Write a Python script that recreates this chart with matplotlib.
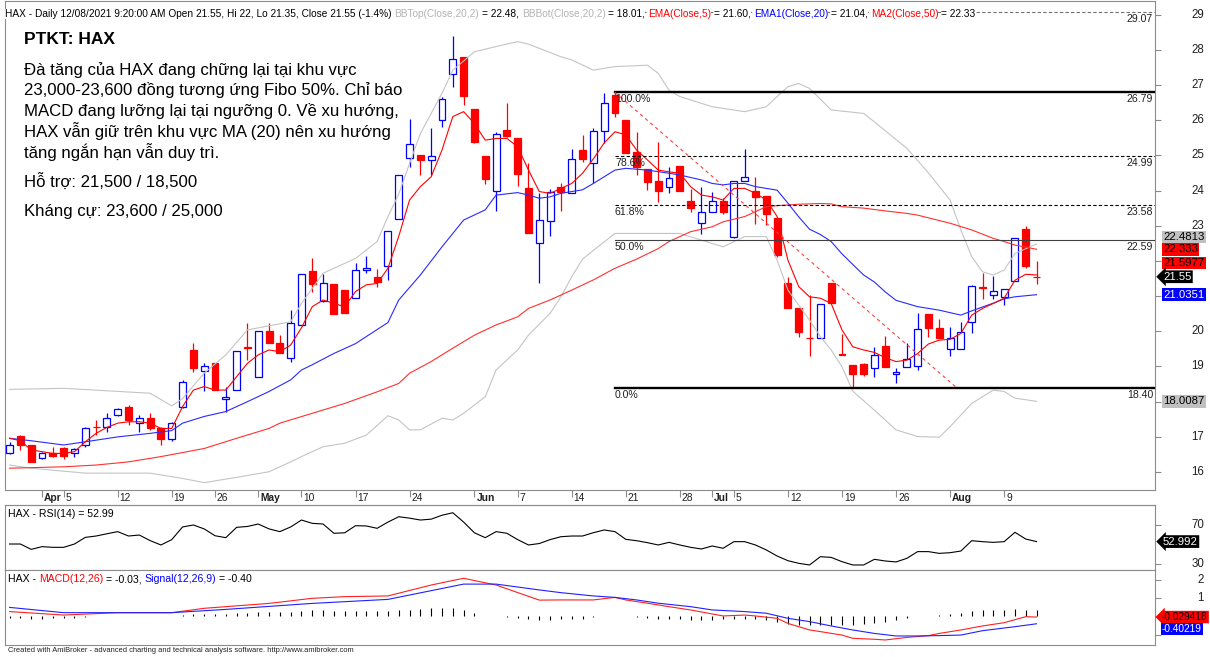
import matplotlib
matplotlib.use('Agg')
import matplotlib.pyplot as plt
from matplotlib.patches import Rectangle
from matplotlib.transforms import blended_transform_factory, offset_copy

plt.rcParams['font.family'] = ['Liberation Sans', 'DejaVu Sans']

# ---------------- data ----------------
opens = [16.53, 17.03, 16.77, 16.39, 16.55, 16.69, 16.53, 16.77, 17.29, 17.27,
         17.63, 17.86, 17.39, 17.55, 17.24, 16.93, 17.86, 19.47, 18.88, 19.09,
         18.08, 18.33, 19.55, 18.71, 20.02, 19.66, 19.23, 20.18, 21.72, 20.86,
         21.33, 21.17, 20.94, 21.74, 21.55, 21.86, 23.18, 24.93, 25.01, 24.87,
         26.00, 27.31, 27.80, 26.31, 24.99, 23.99, 25.72, 25.50, 24.06, 22.50,
         23.14, 24.11, 23.94, 25.15, 24.77, 25.70, 26.71, 26.00, 25.08, 24.60,
         24.27, 24.11, 24.70, 23.70, 23.09, 23.40, 23.70, 22.69, 24.28, 23.99,
         23.85, 23.21, 21.38, 20.65, 19.82, 19.80, 21.38, 19.35, 19.04, 19.07,
         18.95, 19.59, 18.79, 18.99, 19.00, 20.49, 20.08, 19.49, 19.49, 20.25,
         21.26, 21.03, 20.98, 21.43, 22.90, 21.55]
highs = [16.85, 17.05, 16.77, 16.57, 16.72, 16.70, 16.68, 17.29, 17.48, 17.67,
         17.83, 17.91, 17.63, 17.67, 17.29, 17.43, 18.62, 19.66, 19.09, 19.09,
         18.43, 19.44, 20.23, 20.02, 20.23, 19.89, 20.61, 21.63, 22.07, 21.63,
         21.33, 21.17, 21.93, 22.14, 21.76, 22.86, 24.44, 26.02, 25.01, 25.77,
         26.67, 28.39, 27.80, 26.31, 24.99, 25.67, 26.48, 25.50, 24.77, 23.92,
         24.03, 24.20, 25.17, 25.58, 25.77, 26.78, 26.79, 26.00, 25.67, 24.60,
         25.39, 24.66, 24.70, 24.03, 24.09, 23.97, 23.78, 24.28, 25.17, 24.37,
         23.85, 23.21, 21.55, 20.65, 21.03, 20.77, 21.38, 19.92, 19.04, 19.09,
         19.54, 19.87, 18.95, 19.68, 20.53, 20.49, 20.34, 20.13, 20.27, 21.32,
         21.67, 21.57, 21.19, 22.64, 22.99, 22.00]
lows = [16.50, 16.63, 16.30, 16.37, 16.44, 16.36, 16.42, 16.72, 17.05, 17.15,
        17.58, 17.34, 17.15, 17.19, 16.77, 16.89, 17.81, 18.85, 18.29, 18.33,
        17.72, 18.33, 19.19, 18.71, 19.66, 19.37, 19.14, 20.18, 21.13, 20.84,
        20.48, 20.51, 20.94, 21.67, 21.27, 21.46, 23.18, 24.68, 24.44, 24.44,
        25.81, 26.95, 26.43, 25.35, 24.19, 23.42, 25.53, 24.14, 22.78, 21.36,
        22.71, 23.42, 23.94, 24.80, 24.22, 25.34, 26.08, 25.07, 24.44, 24.01,
        23.66, 23.92, 23.99, 23.40, 22.76, 23.38, 23.33, 22.66, 24.28, 23.05,
        23.02, 22.12, 20.65, 19.83, 19.31, 19.80, 20.79, 19.33, 18.43, 18.73,
        18.71, 18.98, 18.52, 18.99, 18.90, 19.85, 19.80, 19.31, 19.49, 19.96,
        20.92, 20.92, 20.75, 21.43, 21.79, 21.35]
closes = [16.77, 16.77, 16.30, 16.55, 16.46, 16.46, 16.66, 17.24, 17.27, 17.55,
          17.78, 17.48, 17.55, 17.24, 16.93, 17.39, 18.57, 18.95, 19.00, 18.33,
          18.14, 19.44, 19.53, 20.02, 19.68, 19.39, 20.24, 21.63, 21.34, 21.36,
          20.48, 20.51, 21.74, 21.79, 21.41, 22.86, 24.44, 25.31, 24.87, 24.99,
          26.60, 27.74, 26.69, 25.39, 24.33, 25.60, 25.55, 24.47, 22.78, 23.15,
          23.95, 23.95, 24.89, 24.89, 25.70, 26.50, 26.19, 25.07, 24.66, 24.25,
          23.99, 24.35, 23.99, 23.49, 23.40, 23.70, 23.40, 24.28, 24.39, 23.81,
          23.33, 22.17, 20.65, 19.99, 19.80, 20.77, 20.79, 19.33, 18.78, 18.78,
          19.33, 18.99, 18.83, 19.22, 20.06, 20.08, 19.80, 19.80, 19.99, 21.29,
          21.24, 21.15, 21.19, 22.64, 21.86, 21.55]

# date axis labels: (bar index, label, is month)
date_ticks = [(3, 'Apr', True), (5, '5', False), (10, '12', False), (15, '19', False),
              (19, '26', False), (23, 'May', True), (27, '10', False), (32, '17', False),
              (37, '24', False), (43, 'Jun', True), (47, '7', False), (52, '14', False),
              (57, '21', False), (62, '28', False), (65, 'Jul', True), (67, '5', False),
              (72, '12', False), (77, '19', False), (82, '26', False), (87, 'Aug', True),
              (92, '9', False)]

# indicator curves: (bar index list, value list)
ema5_x = list(range(96))
ema5_v = [16.96, 16.89, 16.63, 16.58, 16.53, 16.53, 16.58, 16.86, 17.10, 17.27,
          17.39, 17.43, 17.43, 17.39, 17.24, 17.24, 17.86, 18.33, 18.43, 18.33,
          18.33, 18.71, 19.09, 19.33, 19.47, 19.42, 19.61, 20.10, 20.70, 20.89,
          20.79, 20.70, 21.13, 21.32, 21.36, 21.79, 22.70, 23.73, 24.11, 24.39,
          25.15, 26.10, 26.24, 25.90, 25.43, 25.48, 25.48, 25.24, 24.58, 23.97,
          23.92, 24.06, 24.20, 24.49, 24.90, 25.35, 25.67, 25.58, 25.15, 24.87,
          24.58, 24.53, 24.49, 24.11, 23.87, 23.82, 23.73, 24.06, 24.06, 23.92,
          23.73, 23.26, 22.02, 21.27, 20.98, 20.94, 20.79, 20.04, 19.56, 19.47,
          19.40, 19.25, 19.14, 19.18, 19.37, 19.64, 19.75, 19.77, 19.94, 20.46,
          20.65, 20.79, 20.94, 21.45, 21.62, 21.60]
ema20_x = [0, 2, 5, 7, 10, 13, 15, 16, 18, 20, 22, 24, 26, 27, 28, 30, 32, 34, 35, 36,
           38, 40, 42, 44, 45, 47, 48, 49, 50, 51, 53, 54, 56, 57, 59, 61, 62, 64, 65,
           66, 67, 68, 69, 71, 72, 73, 74, 75, 76, 77, 78, 79, 80, 81, 82, 84, 86, 88,
           89, 91, 92, 93, 95]
ema20_v = [16.96, 16.89, 16.77, 16.86, 17.00, 17.10, 17.18, 17.39, 17.58, 17.72,
           18.00, 18.29, 18.62, 18.90, 19.05, 19.37, 19.65, 20.05, 20.25, 20.89,
           21.60, 22.40, 23.16, 23.45, 23.87, 23.94, 23.87, 23.78, 23.82, 23.92,
           24.02, 24.20, 24.58, 24.63, 24.58, 24.49, 24.44, 24.30, 24.20, 24.16,
           24.20, 24.20, 24.11, 24.01, 23.64, 23.25, 22.90, 22.75, 22.55, 22.20,
           21.90, 21.60, 21.40, 21.12, 20.88, 20.70, 20.60, 20.46, 20.58, 20.80,
           20.92, 20.98, 21.04]
ma50_x = [0, 5, 8, 11, 14, 18, 21, 24, 25, 28, 31, 34, 36, 37, 39, 41, 43, 45, 47, 48,
          50, 52, 54, 56, 58, 60, 61, 63, 65, 66, 68, 69, 70, 71, 73, 75, 76, 77, 79,
          81, 83, 84, 87, 89, 91, 92, 93, 95]
ma50_v = [16.11, 16.15, 16.20, 16.29, 16.44, 16.67, 16.96, 17.24, 17.39, 17.67,
          17.95, 18.28, 18.52, 18.81, 19.14, 19.52, 19.89, 20.18, 20.41, 20.65,
          20.89, 21.17, 21.46, 21.79, 22.05, 22.35, 22.55, 22.83, 22.97, 23.11,
          23.26, 23.40, 23.54, 23.57, 23.61, 23.63, 23.62, 23.54, 23.50, 23.42,
          23.35, 23.30, 23.07, 22.88, 22.64, 22.55, 22.45, 22.33]
bbtop_x = [0, 5, 13, 15, 16, 18, 20, 22, 26, 27, 29, 32, 34, 35, 36, 37, 38, 40, 41,
           43, 45, 47, 48, 51, 52, 54, 56, 59, 60, 61, 62, 65, 68, 70, 71, 72, 73, 74,
           76, 79, 80, 83, 85, 87, 88, 89, 90, 91, 92, 93, 95]
bbtop_v = [18.35, 18.38, 18.24, 17.88, 18.09, 18.81, 19.33, 20.04, 20.27, 20.79,
           21.65, 22.07, 22.55, 23.26, 23.90, 24.77, 25.62, 26.76, 27.42, 27.94,
           28.09, 28.23, 28.16, 27.80, 27.71, 27.42, 27.52, 27.56, 27.33, 26.85,
           26.67, 26.38, 26.24, 26.38, 26.67, 26.95, 27.04, 26.90, 26.29, 26.19,
           25.95, 25.20, 24.50, 23.73, 22.88, 22.12, 21.69, 21.60, 21.74, 22.21,
           22.48]
bbbot_x = [0, 2, 7, 13, 16, 18, 21, 24, 26, 27, 29, 31, 33, 35, 36, 37, 38, 40, 41,
           42, 44, 45, 47, 48, 50, 51, 52, 53, 54, 56, 58, 60, 62, 64, 66, 68, 70, 71,
           72, 74, 75, 76, 77, 78, 80, 82, 84, 86, 87, 89, 91, 92, 93, 95]
bbbot_v = [16.20, 16.11, 15.97, 15.97, 15.82, 15.70, 15.85, 16.01, 16.29, 16.44,
           16.72, 16.82, 17.05, 17.60, 17.48, 17.20, 17.20, 17.53, 17.48, 17.67,
           18.14, 18.90, 19.47, 19.89, 20.51, 20.98, 21.55, 22.05, 22.30, 22.78,
           22.78, 22.78, 22.78, 22.59, 22.40, 22.69, 22.69, 22.02, 21.17, 20.32,
           19.85, 19.47, 18.99, 18.30, 17.76, 17.20, 17.01, 16.99, 17.29, 17.95,
           18.33, 18.29, 18.10, 18.01]

rsi_x = list(range(96))
rsi_v = [50.5, 50.5, 45.0, 47.8, 47.1, 47.1, 50.5, 57.3, 58.7, 61.0,
         63.2, 58.7, 59.7, 54.0, 49.5, 55.0, 68.0, 70.0, 66.0, 59.0,
         57.0, 67.6, 68.5, 71.0, 66.0, 63.2, 68.0, 75.1, 71.7, 71.0,
         61.5, 62.0, 69.3, 69.0, 66.6, 73.0, 78.5, 77.0, 75.1, 76.0,
         80.0, 82.6, 73.0, 62.0, 57.0, 63.2, 61.5, 55.0, 49.5, 51.0,
         55.0, 58.0, 58.7, 58.7, 62.1, 64.9, 63.2, 55.3, 53.9, 51.9,
         49.5, 52.2, 49.5, 47.1, 45.4, 48.5, 46.1, 52.9, 52.9, 49.5,
         44.4, 38.2, 33.4, 30.7, 29.0, 37.5, 36.8, 32.4, 29.0, 29.0,
         34.8, 33.1, 32.1, 35.8, 42.7, 42.7, 40.9, 41.6, 43.3, 53.9,
         52.9, 52.2, 52.9, 62.5, 55.6, 52.99]

macd_x = [0, 5, 10, 15, 18, 24, 28, 31, 35, 39, 42, 45, 49, 51, 54, 56, 57, 59, 61,
          63, 65, 66, 68, 69, 71, 72, 74, 75, 77, 78, 80, 81, 83, 85, 86, 88, 90, 92,
          94, 95]
macd_v = [0.27, 0.08, 0.21, 0.21, 0.45, 0.72, 1.00, 1.09, 1.13, 1.73, 2.10, 1.73,
          0.90, 0.91, 0.91, 1.05, 0.91, 0.73, 0.54, 0.36, 0.14, 0.03, 0.08, 0.03,
          -0.10, -0.38, -0.74, -0.83, -1.02, -1.20, -1.25, -1.29, -1.15, -1.05,
          -0.93, -0.74, -0.52, -0.34, -0.01, -0.03]
signal_x = [0, 5, 10, 15, 20, 28, 35, 42, 45, 49, 51, 54, 56, 58, 60, 63, 65, 68, 70,
            72, 74, 76, 78, 80, 82, 84, 86, 88, 90, 93, 95]
signal_v = [0.50, 0.21, 0.21, 0.21, 0.39, 0.72, 0.94, 1.78, 1.78, 1.46, 1.31, 1.13,
            1.05, 0.91, 0.73, 0.54, 0.36, 0.27, 0.18, -0.10, -0.28, -0.52, -0.74,
            -0.93, -1.07, -1.07, -1.05, -1.02, -0.78, -0.56, -0.40]
hist_v = [-0.10, -0.10, -0.12, -0.12, -0.10, -0.10, -0.08, -0.05,
          0.02, 0.02, 0.02, 0.02, 0.02, 0.02, 0.02, 0.02,
          0.08, 0.12, 0.15, 0.15, 0.15, 0.18, 0.20, 0.22, 0.22, 0.22, 0.25, 0.30,
          0.33, 0.33, 0.30, 0.28, 0.30, 0.30, 0.30, 0.32, 0.35, 0.38, 0.42, 0.45, 0.45, 0.45,
          0.35, 0.20, 0.05, 0.02, -0.05, -0.08, -0.15, -0.20, -0.20,
          -0.15, -0.15, -0.12, -0.05, 0.02, 0.0, 0.0, -0.03, -0.08, -0.12, -0.12, -0.15,
          -0.18, -0.18, -0.18, -0.15, -0.12, -0.12, -0.15, -0.2, -0.3, -0.4, -0.45, -0.45,
          -0.45, -0.45, -0.45, -0.45, -0.4, -0.35, -0.3, -0.2, -0.08, 0.02, 0.05, 0.08,
          0.12, 0.2, 0.3, 0.33, 0.35, 0.38, 0.4, 0.38, 0.37]

# Fibonacci drawing
fib_start = (56, 26.79)
fib_end = (87.6, 18.40)
fib_pcts = ['127.2%', '100.0%', '78.6%', '61.8%', '50.0%', '0.0%']
fib_prices = [29.07, 26.79, 24.99, 23.58, 22.59, 18.40]

price_ticks = list(range(16, 30))
price_tick_labels = [16, 17, 19, 20, 23, 24, 25, 26, 27, 28, 29]
rsi_ticks = [70, 30]
macd_ticks = [2, 1, 0, -1]
macd_tick_labels = [2, 1]

header_pieces = [
    ('HAX - Daily 12/08/2021 9:20:00 AM Open 21.55, Hi 22, Lo 21.35, Close 21.55 (-1.4%) ', 'black'),
    ('BBTop(Close,20,2)', '#b4b4b4'), (' = 22.48, ', 'black'),
    ('BBBot(Close,20,2)', '#b4b4b4'), (' = 18.01, ', 'black'),
    ('EMA(Close,5)', '#ff0000'), (' = 21.60, ', 'black'),
    ('EMA1(Close,20)', '#0000ff'), (' = 21.04, ', 'black'),
    ('MA2(Close,50)', '#ff0000'), (' = 22.33', 'black')]
rsi_header = [('HAX - RSI(14) = 52.99', 'black')]
macd_header = [('HAX - ', 'black'), ('MACD(12,26)', '#ff0000'), (' = -0.03, ', 'black'),
               ('Signal(12,26,9)', '#0000ff'), (' = -0.40', 'black')]

note_title = 'PTKT: HAX'
note_lines = ['Đà tăng của HAX đang chững lại tại khu vực',
              '23,000-23,600 đồng tương ứng Fibo 50%. Chỉ báo',
              'MACD đang lưỡng lại tại ngưỡng 0. Về xu hướng,',
              'HAX vẫn giữ trên khu vực MA (20) nên xu hướng',
              'tăng ngắn hạn vẫn duy trì.']
note_support = 'Hỗ trợ: 21,500 / 18,500'
note_resist = 'Kháng cự: 23,600 / 25,000'

# right-axis value labels: (value, text, face, text colour, style, pixel nudge)
price_value_labels = [(22.4813, '22.4813', '#c0c0c0', 'black', 'square', 7),
                      (22.333, '22.333', '#ff0000', 'black', 'square', 0),
                      (21.5977, '21.5977', '#ff0000', 'black', 'square', 12),
                      (21.55, '21.55', '#000000', 'white', 'larrow', 0),
                      (21.0351, '21.0351', '#0000ff', 'white', 'square', 0),
                      (18.0087, '18.0087', '#c0c0c0', 'black', 'square', 0)]
rsi_value_labels = [(52.992, '52.992', '#000000', 'white', 'larrow', 0)]
macd_value_labels = [(-0.029418, '-0.029418', '#ff0000', 'black', 'larrow', 0),
                     (-0.40219, '-0.40219', '#0000ff', 'white', 'square', -5)]

# ---------------- layout ----------------
W, H = 1210, 657
fig = plt.figure(figsize=(W / 100, H / 100), dpi=100)
fig.patch.set_facecolor('white')
LEFT, RIGHT = 5, 1155
GRAY = '#8c8c8c'


def pane(top, bottom):
    ax = fig.add_axes([LEFT / W, 1 - bottom / H, (RIGHT - LEFT) / W, (bottom - top) / H])
    for s in ax.spines.values():
        s.set_color(GRAY)
        s.set_linewidth(0.8)
    ax.set_xlim(-0.4255, 105.957)
    ax.tick_params(axis='x', bottom=False, labelbottom=False)
    ax.yaxis.tick_right()
    ax.tick_params(axis='y', direction='out', length=4, color=GRAY, labelright=False, width=0.8)
    return ax


ax_p = pane(1, 490)
ax_r = pane(505, 570)
ax_m = pane(570, 645)
ax_p.set_ylim(15.491, 29.384)
ax_r.set_ylim(23.85, 90.51)
ax_m.set_ylim(-1.566, 2.555)

# date strip line
fig.add_artist(plt.Line2D([LEFT / W, RIGHT / W], [1 - 505 / H, 1 - 505 / H], color=GRAY, lw=0.8))

# ---------------- price pane ----------------
ax_p.set_yticks(price_ticks)
ytr = ax_p.get_yaxis_transform()
for t in price_tick_labels:
    ax_p.text(1.0426, t, str(t), transform=ytr, ha='right', va='center', fontsize=8.3, color='#202020')

for i in range(len(closes)):
    o, h, l, c = opens[i], highs[i], lows[i], closes[i]
    up = c > o
    col = '#0000ff' if up else '#ff0000'
    lo_b, hi_b = min(o, c), max(o, c)
    ax_p.vlines(i, hi_b, h, color=col, lw=0.9, zorder=2)
    ax_p.vlines(i, l, lo_b, color=col, lw=0.9, zorder=2)
    ax_p.add_patch(Rectangle((i - 0.32, lo_b), 0.64, hi_b - lo_b,
                             facecolor='white' if up else col, edgecolor=col, lw=0.9, zorder=3))

ax_p.plot(bbtop_x, bbtop_v, color='#c4c4c4', lw=0.8, zorder=4)
ax_p.plot(bbbot_x, bbbot_v, color='#c4c4c4', lw=0.8, zorder=4)
ax_p.plot(ma50_x, ma50_v, color='#ff3030', lw=0.8, zorder=4)
ax_p.plot(ema20_x, ema20_v, color='#2a2aff', lw=0.8, zorder=4)
ax_p.plot(ema5_x, ema5_v, color='#ff0000', lw=0.8, zorder=5)

# fibonacci
fib_styles = [dict(color='#707070', lw=0.8, ls=(0, (3, 2))),
              dict(color='black', lw=1.7, ls='-'),
              dict(color='black', lw=0.8, ls=(0, (3, 2))),
              dict(color='black', lw=0.8, ls=(0, (3, 2))),
              dict(color='#404040', lw=0.8, ls='-'),
              dict(color='black', lw=1.7, ls='-')]
for k, (pct, pv) in enumerate(zip(fib_pcts, fib_prices)):
    ax_p.plot([fib_start[0], 105.957], [pv, pv], zorder=6, **fib_styles[k])
    off = offset_copy(ax_p.transData, fig=fig, x=0, y=-2, units='dots')
    if k > 0:
        ax_p.text(fib_start[0], pv, pct, transform=off, ha='left', va='top', fontsize=7.6,
                  color='#202020', zorder=7)
    off2 = offset_copy(ax_p.get_yaxis_transform(), fig=fig, x=-2, y=-2, units='dots')
    ax_p.text(1.0, pv, '%.2f' % pv, transform=off2, ha='right', va='top', fontsize=7.6,
              color='#202020', zorder=7)
ax_p.plot([fib_start[0], fib_end[0]], [fib_start[1], fib_end[1]], color='#ff4040', lw=0.8,
          ls=(0, (3, 3)), zorder=6)

# x ticks for dates
ax_p.set_xticks([d[0] for d in date_ticks])
ax_p.tick_params(axis='x', bottom=True, direction='out', length=5, color=GRAY, width=0.8)
dtr = offset_copy(blended_transform_factory(ax_p.transData, fig.transFigure), fig=fig, x=2, y=0,
                  units='dots')
for i, lab, mon in date_ticks:
    fig.text(i, 1 - 498 / H, lab, transform=dtr, ha='left', va='center', fontsize=7.4,
             fontweight='bold' if mon else 'normal', color='#202020')

# ---------------- RSI pane ----------------
ax_r.plot(rsi_x, rsi_v, color='black', lw=0.8)
ax_r.set_yticks(rsi_ticks)
for t in rsi_ticks:
    ax_r.text(1.0426, t, str(t), transform=ax_r.get_yaxis_transform(), ha='right', va='center',
              fontsize=8.3, color='#202020')

# ---------------- MACD pane ----------------
ax_m.vlines(range(len(hist_v)), 0, hist_v, color='black', lw=0.8)
ax_m.plot(macd_x, macd_v, color='#ff2020', lw=0.8)
ax_m.plot(signal_x, signal_v, color='#2020ff', lw=0.8)
ax_m.set_yticks(macd_ticks)
for t in macd_tick_labels:
    ax_m.text(1.0426, t, str(t), transform=ax_m.get_yaxis_transform(), ha='right', va='center',
              fontsize=8.3, color='#202020')


def value_labels(ax, items, fs=8.2, x_px=1163):
    for val, txt, fc, tc, style, nudge in items:
        tr = offset_copy(ax.get_yaxis_transform(), fig=fig, x=0, y=nudge, units='dots')
        x0 = (x_px - LEFT) / (RIGHT - LEFT)
        bs = 'larrow,pad=0.12' if style == 'larrow' else 'square,pad=0.12'
        ax.text(x0, val, txt, transform=tr, ha='left', va='center', fontsize=fs, color=tc,
                zorder=10, bbox=dict(boxstyle=bs, fc=fc, ec='none'))


value_labels(ax_p, price_value_labels)
value_labels(ax_r, rsi_value_labels)
value_labels(ax_m, macd_value_labels, fs=7.3, x_px=1162)

# ---------------- texts ----------------
renderer = fig.canvas.get_renderer()


def width(s, **kw):
    t = fig.text(0, 0, s, **kw)
    w = t.get_window_extent(renderer).width
    t.remove()
    return w


def colored_line(x_px, y_px, pieces, fs, bg=True):
    """Draw text pieces side by side (each piece once, no overlap)."""
    kw = dict(fontsize=fs, va='center', ha='left')
    wx = width('X', **kw)
    prefix = ''
    for p, col in pieces:
        lead = len(p) - len(p.lstrip(' '))
        ps = p.strip(' ')
        start = prefix + p[:lead]
        x = x_px + (width(start + 'X', **kw) - wx if start else 0.0)
        bb = dict(boxstyle='square,pad=0.0', fc='white', ec='none') if bg else None
        fig.text(x / W, 1 - y_px / H, ps, color=col, zorder=21, bbox=bb, **kw)
        prefix += p


header_fs = 7.3
colored_line(5, 14, header_pieces, header_fs)
colored_line(8, 514, rsi_header, 7.6, bg=False)
colored_line(8, 579, macd_header, 7.6, bg=False)

note_fs = 12.1
fig.text(24 / W, 1 - 39.5 / H, note_title, fontsize=12.5, fontweight='bold', va='center', ha='left')
for k, line in enumerate(note_lines):
    fig.text(24 / W, 1 - (70 + 20.4 * k) / H, line, fontsize=note_fs, va='center', ha='left')
fig.text(24 / W, 1 - 181.7 / H, note_support, fontsize=note_fs, va='center', ha='left')
fig.text(24 / W, 1 - 211.7 / H, note_resist, fontsize=note_fs, va='center', ha='left')

fig.text(8 / W, 1 - 650 / H,
         'Created with AmiBroker - advanced charting and technical analysis software. http://www.amibroker.com',
         fontsize=5.4, va='center', ha='left', color='#202020')

fig.savefig('out.png', dpi=100, facecolor='white')
